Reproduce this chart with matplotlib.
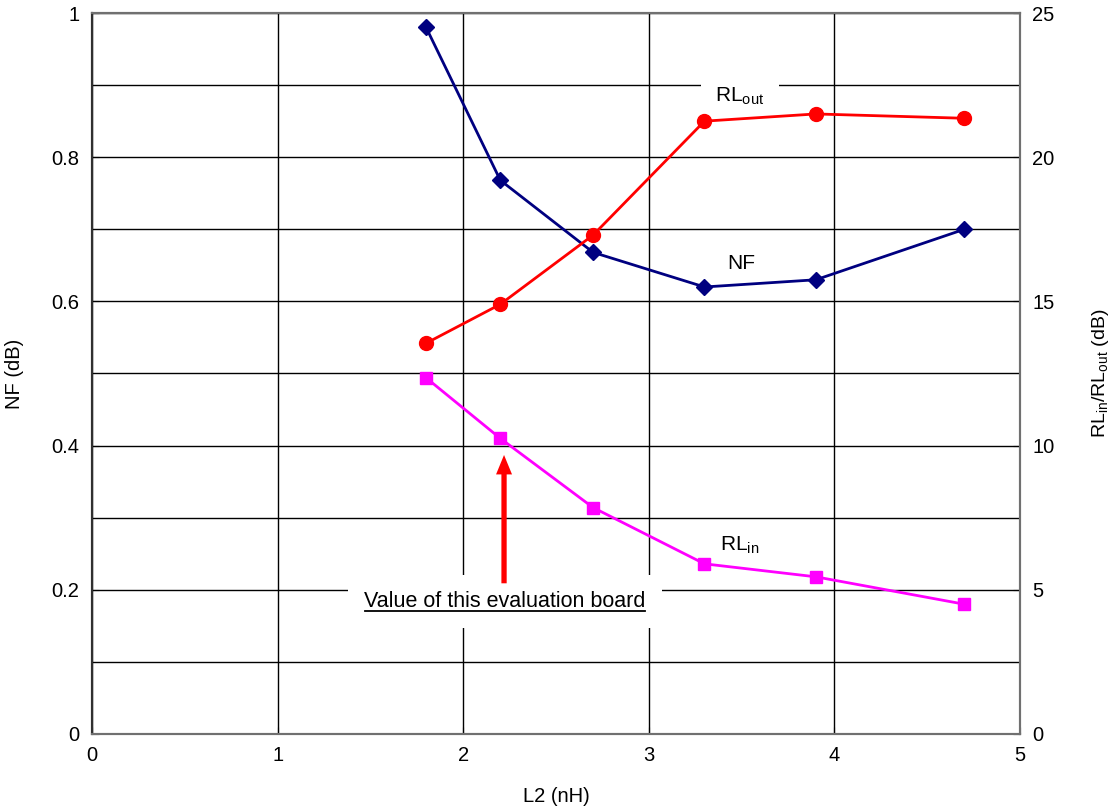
import matplotlib
matplotlib.use("Agg")
import matplotlib.pyplot as plt
from matplotlib.ticker import MultipleLocator

plt.rcParams['font.family'] = ['Liberation Sans', 'DejaVu Sans']

l2 = [1.8, 2.2, 2.7, 3.3, 3.9, 4.7]
nf = [0.98, 0.768, 0.668, 0.62, 0.63, 0.70]
rl_out = [13.55, 14.9, 17.3, 21.25, 21.5, 21.35]
rl_in = [12.35, 10.25, 7.85, 5.9, 5.45, 4.5]

fig = plt.figure(figsize=(11.13, 8.08), dpi=100)
ax = fig.add_axes([0.0827, 0.0916, 0.8337, 0.8923])
ax2 = ax.twinx()

ax.set_xlim(0, 5)
ax.set_ylim(0, 1)
ax2.set_ylim(0, 25)
ax.xaxis.set_major_locator(MultipleLocator(1))
ax.yaxis.set_minor_locator(MultipleLocator(0.1))
ax2.yaxis.set_major_locator(MultipleLocator(5))
ax.set_yticks([0, 0.2, 0.4, 0.6, 0.8, 1])
ax.set_yticklabels(['0', '0.2', '0.4', '0.6', '0.8', '1'])

ax.grid(True, which='major', color='black', lw=1)
ax.grid(True, which='minor', axis='y', color='black', lw=1)
ax.set_axisbelow(True)

for a in (ax, ax2):
    a.tick_params(direction='in', length=5, labelsize=14.5, pad=9, which='major')
    a.tick_params(which='minor', length=0)
    for s in a.spines.values():
        s.set_color('#707070')
        s.set_linewidth(1.5)
ax.spines['left'].set_color('#303030')
ax2.spines['left'].set_color('#303030')

ax.plot(l2, nf, color='#000080', lw=2, marker='D', ms=8, zorder=5)
ax2.plot(l2, rl_out, color='#ff0000', lw=2, marker='o', ms=10, zorder=5)
ax2.plot(l2, rl_in, color='#ff00ff', lw=2, marker='s', ms=9, zorder=5)

ax.text(3.49, 0.884, r'RL$_{\mathregular{out}}$', fontsize=15, ha='center', va='center',
        bbox=dict(boxstyle='square,pad=0.7', fc='white', ec='none'), zorder=3)
ax.text(3.50, 0.653, 'NF', fontsize=15, ha='center', va='center', zorder=3)
ax.text(3.49, 0.262, r'RL$_{\mathregular{in}}$', fontsize=15, ha='center', va='center', zorder=3)
ax.text(2.225, 0.184, 'Value of this evaluation board', fontsize=15.5, ha='center', va='center',
        bbox=dict(boxstyle='square,pad=0.75', fc='white', ec='none'), zorder=3)
ax.plot([1.47, 2.98], [0.171, 0.171], color='black', lw=1.3, zorder=4)

ax.annotate('', xy=(2.22, 0.387), xytext=(2.22, 0.209),
            arrowprops=dict(width=3.8, headwidth=11.5, headlength=14, shrink=0,
                            color='#ff0000', lw=0), zorder=4)

ax.set_xlabel('L2 (nH)', fontsize=14.5)
ax.xaxis.set_label_coords(0.5, -0.073)
ax.set_ylabel('NF (dB)', fontsize=14.5)
ax.yaxis.set_label_coords(-0.073, 0.5)
ax2.set_ylabel(r'RL$_{\mathregular{in}}$/RL$_{\mathregular{out}}$ (dB)', fontsize=14)
ax2.yaxis.set_label_coords(1.075, 0.5)

fig.savefig('out.png', dpi=100)
